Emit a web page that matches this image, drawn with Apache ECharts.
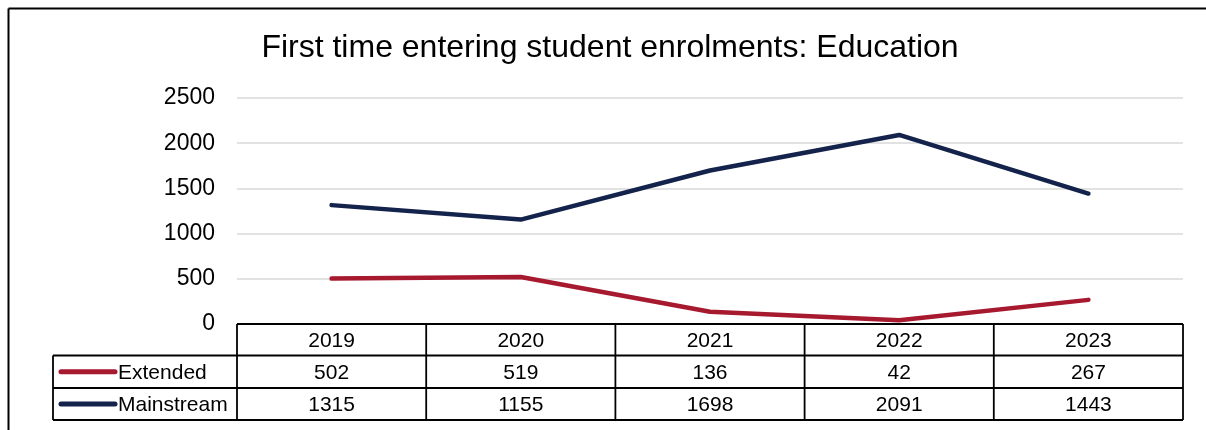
<!DOCTYPE html>
<html>
<head>
<meta charset="utf-8">
<script src="https://cdn.jsdelivr.net/npm/echarts@6/dist/echarts.min.js"></script>
<style>
  html, body { margin: 0; padding: 0; background: #fff; }
  #chart { width: 1206px; height: 430px; }
</style>
</head>
<body>
<div id="chart"></div>
<script>
// Enrolment data
const titleText = 'First time entering student enrolments: Education';
const years = ['2019', '2020', '2021', '2022', '2023'];
const seriesNames = ['Extended', 'Mainstream'];
const extended = [502, 519, 136, 42, 267];
const mainstream = [1315, 1155, 1698, 2091, 1443];
const yMin = 0, yMax = 2500, yStep = 500;

const FONT = '"Liberation Sans", Arial, sans-serif';
const colors = ['#A6192E', '#14234B'];

// Layout
const W = 1206, H = 430;
const gridL = 237, gridR = 1183, gridT = 98, gridB = 324;
const rowEdges = [324, 355.5, 388, 420];
const tableL = 53;

const chart = echarts.init(document.getElementById('chart'), null, { renderer: 'canvas' });

const seriesData = [extended, mainstream];

chart.setOption({
  animation: false,
  backgroundColor: '#ffffff',
  grid: { left: gridL, right: W - gridR, top: gridT, bottom: H - gridB, containLabel: false },
  xAxis: {
    type: 'category',
    data: years,
    boundaryGap: true,
    axisLine: { show: false },
    axisTick: { show: false },
    axisLabel: { show: false },
    splitLine: { show: false }
  },
  yAxis: {
    type: 'value',
    min: yMin, max: yMax, interval: yStep,
    axisLine: { show: false },
    axisTick: { show: false },
    axisLabel: { fontFamily: FONT, fontSize: 23, color: '#000', margin: 22, formatter: v => String(v) },
    splitLine: { lineStyle: { color: '#d9d9d9', width: 1.5 } }
  },
  series: seriesNames.map((name, i) => ({
    name: name,
    type: 'line',
    data: seriesData[i],
    symbol: 'none',
    lineStyle: { color: colors[i], width: 4.5, cap: 'round', join: 'round' },
    itemStyle: { color: colors[i] },
    z: 3
  }))
});

// Data table under the plot, plus frame and title
const g = [];
const lineStyle = { stroke: '#000', lineWidth: 1.8 };
function hline(x1, x2, y) {
  g.push({ type: 'line', shape: { x1: x1, y1: y, x2: x2, y2: y }, style: lineStyle, z: 10 });
}
function vline(x, y1, y2) {
  g.push({ type: 'line', shape: { x1: x, y1: y1, x2: x, y2: y2 }, style: lineStyle, z: 10 });
}
function text(str, x, y, align, size) {
  g.push({
    type: 'text', x: x, y: y, z: 11,
    style: { text: str, fill: '#000', font: size + 'px ' + FONT, textAlign: align, textVerticalAlign: 'middle' }
  });
}

// frame
g.push({ type: 'line', shape: { x1: 8.5, y1: 8.5, x2: W, y2: 8.5 }, style: { stroke: '#000', lineWidth: 2 } });
g.push({ type: 'line', shape: { x1: 8.5, y1: 8.5, x2: 8.5, y2: H }, style: { stroke: '#000', lineWidth: 2 } });

// title
text(titleText, 610, 48, 'center', 32);

// table grid lines
hline(gridL, gridR, rowEdges[0]);
hline(tableL, gridR, rowEdges[1]);
hline(tableL, gridR, rowEdges[2]);
hline(tableL, gridR, rowEdges[3]);
vline(tableL, rowEdges[1], rowEdges[3]);
const colW = (gridR - gridL) / years.length;
for (let i = 0; i <= years.length; i++) {
  vline(gridL + i * colW, rowEdges[0], rowEdges[3]);
}

// header row (years) and value rows
years.forEach((yr, i) => {
  const cx = chart.convertToPixel({ xAxisIndex: 0 }, yr);
  text(yr, cx, (rowEdges[0] + rowEdges[1]) / 2 + 1, 'center', 21);
  seriesData.forEach((vals, s) => {
    text(String(vals[i]), cx, (rowEdges[s + 1] + rowEdges[s + 2]) / 2 + 1, 'center', 21);
  });
});

// legend keys inside row headers
seriesNames.forEach((name, s) => {
  const cy = (rowEdges[s + 1] + rowEdges[s + 2]) / 2;
  g.push({
    type: 'line', z: 11,
    shape: { x1: 61, y1: cy, x2: 115, y2: cy },
    style: { stroke: colors[s], lineWidth: 5, lineCap: 'round' }
  });
  text(name, 118, cy + 1, 'left', 21);
});

chart.setOption({ graphic: { elements: g } });
</script>
</body>
</html>
